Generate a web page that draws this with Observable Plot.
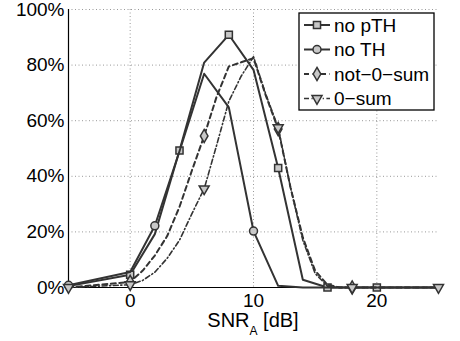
<!DOCTYPE html>
<html><head><meta charset="utf-8">
<script src="https://cdn.jsdelivr.net/npm/d3@7"></script>
<script src="https://cdn.jsdelivr.net/npm/@observablehq/plot@0.6"></script>
<style>body{margin:0;background:#fff}#chart{width:460px;height:341px}</style>
</head><body><div id="chart"></div>
<script>
// ---- data ----
const xSolid = [-5, 0, 2, 4, 6, 8, 10, 12, 14, 16, 18, 20, 22, 24, 25];
const noPTH  = [0.5, 4.6, 19.2, 49.3, 80.9, 90.9, 78.3, 43, 2.8, 0, 0, 0, 0, 0, 0];
const noTH   = [0.8, 5.6, 22.2, 49, 76.9, 64.8, 20.3, 0.6, 0, 0, 0, 0, 0, 0, 0];
const xDash  = [-5, 0, 1, 2, 3, 4, 5, 6, 7, 8, 9, 10, 11, 12, 13, 14, 15, 16, 17, 18, 20, 25];
const not0sum = [0, 2, 6, 11.5, 18.5, 29, 42, 54.5, 68.5, 79.5, 81, 82.5, 69, 57, 36, 18, 6, 1, 0, 0, 0, 0];
const zeroSum = [0, 1, 2.5, 5.5, 10.5, 17, 26.5, 35.5, 51, 67, 76, 83, 69.5, 57.5, 36, 17, 5, 0.5, 0, 0, 0, 0];
const seriesNames = ["no pTH", "no TH", "not\u22120\u2212sum", "0\u2212sum"];
const xTicks = [0, 10, 20];
const yTicks = [0, 20, 40, 60, 80, 100];
const xDomain = [-5, 25];
// marker positions (x values where a symbol is drawn)
const mkNoPTH = [0, 4, 8, 12, 16, 20];
const mkNoTH = [-5, 2, 10];
const mkNot0 = [0, 6, 12, 18];
const mkZero = [-5, 0, 6, 12, 18, 25];

// ---- build ----
const rows = (xs, ys) => xs.map((x, i) => ({x, y: ys[i]}));
const pick = (xs, ys, mk) => mk.map(m => ({x: m, y: ys[xs.indexOf(m)]}));
const ink = "#333";
const mfill = "#c8c8c8";
const dotStyle = {x: "x", y: "y", fill: mfill, stroke: ink, strokeWidth: 1.5};

const chart = Plot.plot({
  width: 460, height: 341,
  marginLeft: 68, marginRight: 22, marginTop: 9, marginBottom: 54,
  style: {fontFamily: "'Liberation Sans', Arial, sans-serif", fontSize: "19px", background: "#fff", color: "#000", overflow: "visible"},
  x: {domain: xDomain, ticks: xTicks, tickSize: 0, tickPadding: 6, label: null},
  y: {domain: [yTicks[0], yTicks[yTicks.length - 1]], ticks: yTicks, tickFormat: d => d + "%", tickSize: 0, tickPadding: 4, label: null},
  marks: [
    Plot.ruleY(yTicks.slice(1), {stroke: "#999", strokeDasharray: "1,2.5"}),
    Plot.ruleX(xTicks, {stroke: "#999", strokeDasharray: "1,2.5"}),
    Plot.ruleX([xDomain[0]], {stroke: "#000", strokeWidth: 1.2}),
    Plot.ruleY([yTicks[0]], {stroke: "#000", strokeWidth: 1.2}),
    Plot.line(rows(xSolid, noPTH), {x: "x", y: "y", stroke: ink, strokeWidth: 2}),
    Plot.dot(pick(xSolid, noPTH, mkNoPTH), {...dotStyle, symbol: "square", r: 4}),
    Plot.line(rows(xSolid, noTH), {x: "x", y: "y", stroke: ink, strokeWidth: 2}),
    Plot.dot(pick(xSolid, noTH, mkNoTH), {...dotStyle, symbol: "circle", r: 4}),
    Plot.line(rows(xDash, not0sum), {x: "x", y: "y", stroke: ink, strokeWidth: 2, strokeDasharray: "5,3.5"}),
    Plot.dot(pick(xDash, not0sum, mkNot0), {...dotStyle, symbol: "diamond", r: 4}),
    Plot.line(rows(xDash, zeroSum), {x: "x", y: "y", stroke: ink, strokeWidth: 1.6, strokeDasharray: "5,2.5,1.2,2.5"}),
    Plot.dot(pick(xDash, zeroSum, mkZero), {...dotStyle, symbol: "triangle", rotate: 180, r: 3.7})
  ]
});
document.getElementById("chart").append(chart);

// ---- x label with subscript ----
const svg = d3.select(chart);
const lab = svg.append("text")
  .attr("x", (68 + 438) / 2).attr("y", 327)
  .attr("text-anchor", "middle")
  .attr("font-size", 20).attr("fill", "#000");
lab.append("tspan").text("SNR");
lab.append("tspan").attr("font-size", 12).attr("dy", 8).text("A");
lab.append("tspan").attr("dy", -8).text(" [dB]");

// ---- legend ----
const lg = svg.append("g").attr("transform", "translate(299,13)");
lg.append("rect").attr("width", 135).attr("height", 97)
  .attr("fill", "#fff").attr("stroke", "#000").attr("stroke-width", 1.3);
const syms = [
  {t: d3.symbolSquare, r: 4, rot: 0, dash: null, w: 2},
  {t: d3.symbolCircle, r: 4, rot: 0, dash: null, w: 2},
  {t: d3.symbolDiamond, r: 4, rot: 0, dash: "5,3.5", w: 2},
  {t: d3.symbolTriangle, r: 3.7, rot: 180, dash: "5,2.5,1.2,2.5", w: 1.6}
];
seriesNames.forEach((name, i) => {
  const cy = 12 + i * 24.5;
  const g = lg.append("g").attr("transform", `translate(0,${cy})`);
  g.append("line").attr("x1", 5).attr("x2", 31).attr("y1", 0).attr("y2", 0)
    .attr("stroke", ink).attr("stroke-width", syms[i].w)
    .attr("stroke-dasharray", syms[i].dash);
  g.append("path").attr("d", d3.symbol(syms[i].t, Math.PI * syms[i].r * syms[i].r)())
    .attr("transform", `translate(18,0) rotate(${syms[i].rot})`)
    .attr("fill", mfill).attr("stroke", ink).attr("stroke-width", 1.5);
  g.append("text").attr("x", 35).attr("y", 0).attr("dy", "0.35em")
    .attr("text-anchor", "start")
    .attr("font-size", 19).attr("fill", "#000").text(name);
});
</script>
</body></html>
